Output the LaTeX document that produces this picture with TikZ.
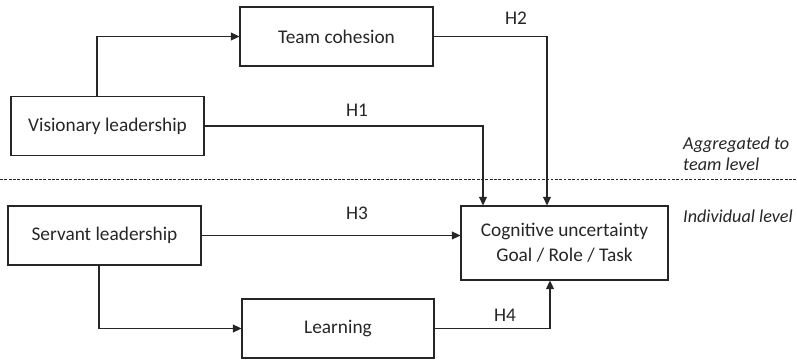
\documentclass[tikz,border=0pt]{standalone}
\usepackage{fontspec}
\setmainfont{Carlito}
\usepackage{xcolor}
\usepackage{tikz}
\usetikzlibrary{shapes,arrows.meta,positioning,calc}

\definecolor{linegray}{HTML}{262626}
\tikzset{
    box/.style={rectangle, draw=linegray, line width=0.9pt, minimum width=5.79cm, minimum height=1.77cm, inner sep=2pt},
    conn/.style={draw=linegray, line width=0.9pt, -{Triangle[length=2.6mm,width=2.4mm]}},
    hlabel/.style={inner sep=1pt},
    levelnote/.style={font=\fontsize{15.5}{18}\selectfont\itshape, align=left, anchor=west, inner sep=0pt},
}

\begin{document}
\begin{tikzpicture}[font=\fontsize{16.5}{21.5}\selectfont, text=linegray]
    \useasboundingbox (0,0) rectangle (23.91,10.8);

    \node (visionary) [box] at (3.225,7.02) {Visionary leadership};
    \node (cohesion) [box] at (10.095,9.705) {Team cohesion};
    \node (servant) [box] at (3.135,3.735) {Servant leadership};
    \node (learning) [box, minimum width=5.76cm] at (10.14,0.945) {Learning};
    \node (cognitive) [box, minimum width=6.21cm, minimum height=2.22cm, align=center] at (16.935,3.51) {Cognitive uncertainty\\Goal / Role / Task};

    \node (h1) [hlabel] at (10.71,7.5) {H1};
    \node (h2) [hlabel] at (15.48,10.26) {H2};
    \node (h3) [hlabel] at (10.71,4.41) {H3};
    \node (h4) [hlabel] at (15.15,1.35) {H4};

    \node (aggregated) [levelnote] at (20.49,6.18) {Aggregated to\\team level};
    \node (individual) [levelnote] at (20.49,4.32) {Individual level};

    % level divider
    \draw [linegray, line width=0.6pt, dash pattern=on 2.5pt off 1.2pt] (0,5.43) -- (23.91,5.43);

    \draw [conn] ([xshift=-0.315cm]visionary.north) |- (cohesion.west);
    \draw [conn] (visionary.east) -| ([xshift=-2.445cm]cognitive.north);
    \draw [conn] (cohesion.east) -| ([xshift=-0.525cm]cognitive.north);
    \draw [conn] (servant.east) -- (servant.east -| cognitive.west);
    \draw [conn] ([xshift=-0.165cm]servant.south) |- (learning.west);
    \draw [conn] (learning.east) -| ([xshift=-0.435cm]cognitive.south);
\end{tikzpicture}
\end{document}
